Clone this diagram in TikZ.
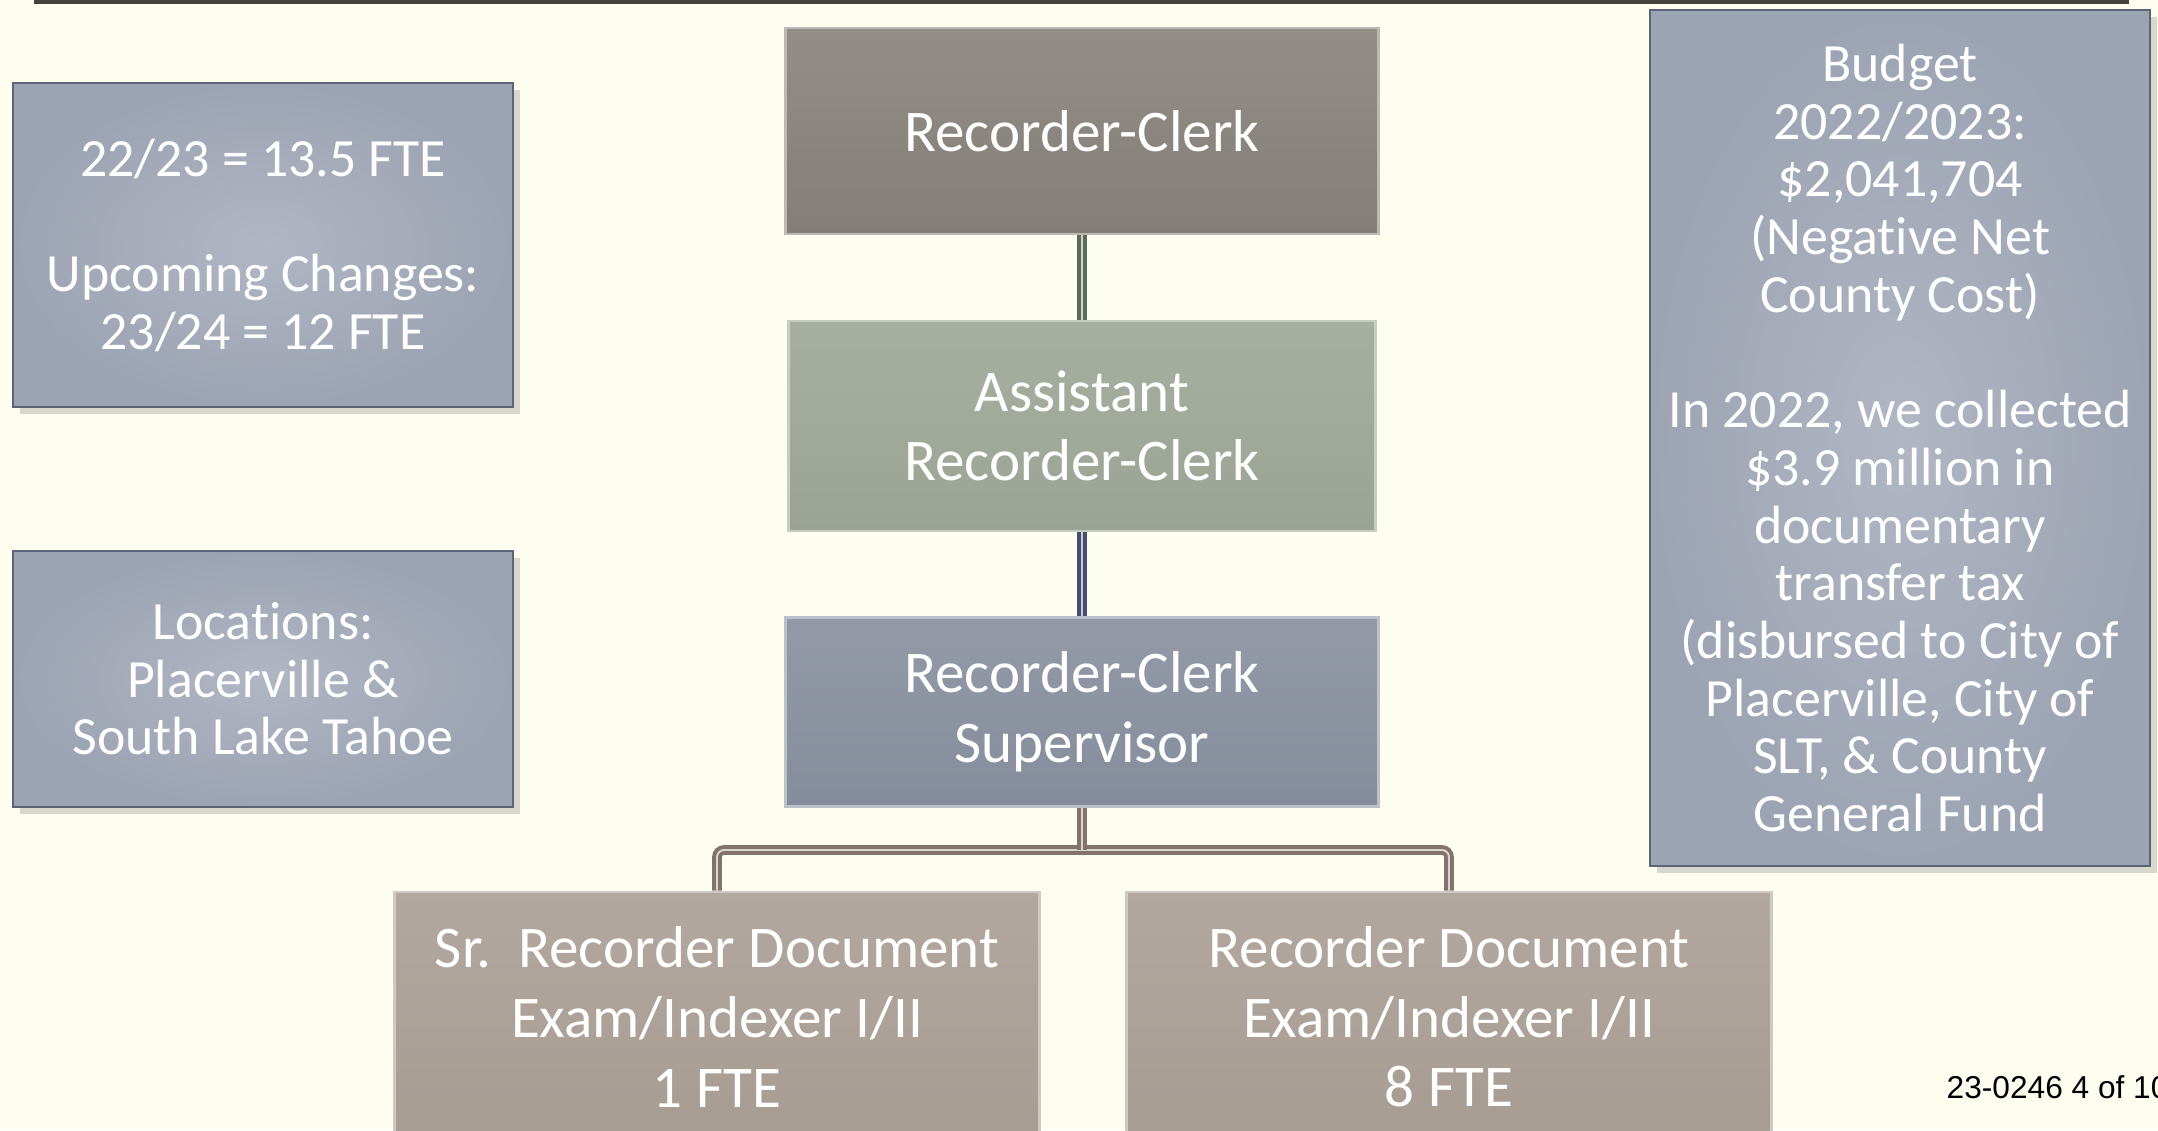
\documentclass[tikz,border=0pt]{standalone}
\usepackage{fontspec}
\setmainfont{Carlito}[Ligatures=NoCommon]
\newfontfamily\footfont{Liberation Sans}
\usetikzlibrary{shadows}
\definecolor{paper}{HTML}{FDFDF0}
\definecolor{rule}{HTML}{46413D}
\definecolor{clerkc}{HTML}{847E78}
\definecolor{asstc}{HTML}{9BA494}
\definecolor{superc}{HTML}{858C9B}
\definecolor{docc}{HTML}{A79C92}
\definecolor{notein}{HTML}{B1B6C3}
\definecolor{noteout}{HTML}{9CA3B2}
\definecolor{noteline}{HTML}{5C6478}
\definecolor{grnlink}{HTML}{5A6B5A}
\definecolor{bluelink}{HTML}{454E6C}
\definecolor{brnlink}{HTML}{83746B}
\begin{document}
\begin{tikzpicture}[x=0.01cm,y=-0.01cm,
  post/.style={top color=#1!88!white, bottom color=#1, draw=#1!55!white, line width=0.8pt,
    text=white, align=center, inner sep=0pt, font=\fontsize{16.8}{19.8}\selectfont},
  note/.style={inner color=notein, outer color=noteout, draw=noteline, line width=0.6pt,
    drop shadow={opacity=0.3, shadow xshift=2pt, shadow yshift=-2pt},
    text=white, align=center, inner sep=0pt, font=\fontsize{15.3}{16.4}\selectfont},
  link/.style={draw=#1, line width=1.1pt, double=#1!30!white, double distance=0.55pt}]
\useasboundingbox (0,0) rectangle (2158,1130);
\clip (0,0) rectangle (2158,1130);
\fill[paper] (0,0) rectangle (2158,1130);
\draw[rule, line width=0.9pt] (34,2) -- (2129,2);
% chain of command
\node[post=clerkc, minimum width=5.92cm, minimum height=2.06cm] (clerk) at (1082,131) {Recorder-Clerk};
\node[post=asstc, minimum width=5.86cm, minimum height=2.10cm] (asst) at (1082,426) {Assistant\\Recorder-Clerk};
\node[post=superc, minimum width=5.92cm, minimum height=1.89cm] (superv) at (1082,712) {Recorder-Clerk\\Supervisor};
\node[post=docc, minimum width=6.44cm, minimum height=2.50cm] (srdoc) at (717,1017) {Sr.\ \ Recorder Document\\Exam/Indexer I/II\\1 FTE};
\node[post=docc, minimum width=6.44cm, minimum height=2.50cm] (doc) at (1449,1017) {Recorder Document\\Exam/Indexer I/II\\8 FTE};
\draw[link=grnlink] (clerk.south) -- (asst.north);
\draw[link=bluelink] (asst.south) -- (superv.north);
\coordinate (fork) at (1082,850);
\draw[link=brnlink, rounded corners=2pt] (srdoc.north) |- (fork) -| (doc.north);
\draw[link=brnlink] (superv.south) -- (fork);
% side notes
\node[note, minimum width=4.99cm, minimum height=3.23cm] (fte) at (263,245) {22/23 = 13.5 FTE\\[16.4pt]Upcoming Changes:\\23/24 = 12 FTE};
\node[note, minimum width=4.99cm, minimum height=2.55cm] (loc) at (263,679) {Locations:\\Placerville \&\\South Lake Tahoe};
\node[note, minimum width=5.00cm, minimum height=8.55cm] (budget) at (1900,438) {Budget\\2022/2023:\\\$2,041,704\\(Negative Net\\County Cost)\\[16.4pt]In 2022, we collected\\\$3.9 million in\\documentary\\transfer tax\\(disbursed to City of\\Placerville, City of\\SLT, \& County\\General Fund};
\node[anchor=west, inner sep=0pt, font=\footfont\fontsize{9}{11}\selectfont] (foot) at (1946,1087) {23-0246 4 of 10};
\end{tikzpicture}
\end{document}
